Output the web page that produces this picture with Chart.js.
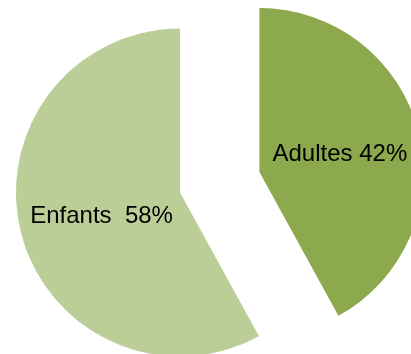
<!DOCTYPE html>
<html>
<head>
<meta charset="utf-8">
<script src="https://cdn.jsdelivr.net/npm/chart.js@4.4.1/dist/chart.umd.min.js"></script>
<style>
  html, body { margin: 0; padding: 0; background: #ffffff; }
  #wrap { width: 411px; height: 354px; }
</style>
</head>
<body>
<div id="wrap"><canvas id="pieChart"></canvas></div>
<script>
// data
const categories = ['Adultes', 'Enfants'];
const shares = [42, 58];
const pointLabels = ['Adultes 42%', 'Enfants  58%'];
const sliceColors = ['#8DA94E', '#BBCE98'];
const explode = [82, 0]; // how far each slice is pulled out (px)

// pull slices out without growing them (chart.js offset also enlarges the arc)
const explodePlugin = {
    id: 'explodeSlices',
    afterDatasetUpdate(chart, args) {
        const meta = chart.getDatasetMeta(args.index);
        meta.data.forEach((arc, i) => {
            const d = explode[i] || 0;
            const mid = (arc.startAngle + arc.endAngle) / 2;
            arc.x += Math.cos(mid) * d;
            arc.y += Math.sin(mid) * d;
        });
    }
};

// text inside each slice
const sliceLabels = {
    id: 'sliceLabels',
    afterDatasetsDraw(chart) {
        const ctx = chart.ctx;
        const meta = chart.getDatasetMeta(0);
        ctx.save();
        ctx.font = '24px "Liberation Sans", Arial, sans-serif';
        ctx.fillStyle = '#000000';
        ctx.textAlign = 'center';
        ctx.textBaseline = 'middle';
        meta.data.forEach((arc, i) => {
            const p = arc.getCenterPoint();
            ctx.fillText(pointLabels[i], p.x + 1, p.y + 3);
        });
        ctx.restore();
    }
};

new Chart(document.getElementById('pieChart'), {
    type: 'pie',
    data: {
        labels: categories,
        datasets: [{
            data: shares,
            backgroundColor: sliceColors,
            borderWidth: 0,
            clip: false
        }]
    },
    options: {
        responsive: true,
        maintainAspectRatio: false,
        animation: false,
        radius: 164,
        layout: { padding: { left: 0, right: 51, top: 31, bottom: 0 } },
        plugins: {
            legend: { display: false },
            tooltip: { enabled: false }
        },
        events: []
    },
    plugins: [explodePlugin, sliceLabels]
});
</script>
</body>
</html>
